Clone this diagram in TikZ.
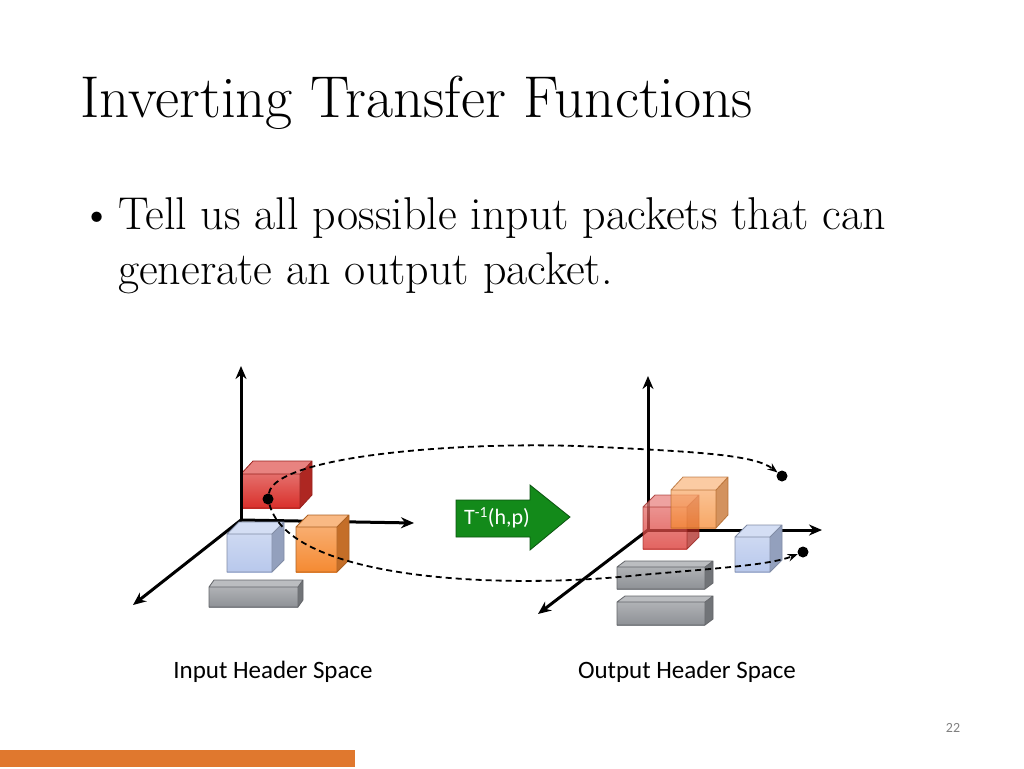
\documentclass[tikz,border=0pt]{standalone}
\usepackage{fontspec}
\newfontfamily\calibri{Carlito}
\usetikzlibrary{arrows.meta, positioning}
\definecolor{BoxRed}{HTML}{D9302B}
\definecolor{BoxOrange}{HTML}{F58A32}
\definecolor{BoxBlue}{HTML}{B8C8EC}
\definecolor{BoxGray}{HTML}{8E9196}
\definecolor{ArrowGreen}{HTML}{138A1A}
\definecolor{BarOrange}{HTML}{E0782E}
\tikzset{
  axis/.style={-{Stealth[length=13pt, width=11pt]}, line width=3pt, color=black},
  guide/.style={dash pattern=on 6pt off 4pt, line width=1.8pt, -{Stealth[length=10pt]}},
  dot/.style={circle, fill=black, inner sep=0pt, minimum size=11pt},
  caption/.style={font=\calibri\fontsize{25}{28}\selectfont},
}
% front corner, width, height, depth offset, colour, opacity
\newcommand{\pktbox}[8]{%
  \fill[#7!80!black, opacity=#8] (#1+#3,#2) -- ++(#5,-#6) -- ++(0,-#4) -- ++(-#5,#6) -- cycle;
  \fill[#7!60!white, opacity=#8] (#1,#2-#4) -- ++(#5,-#6) -- ++(#3,0) -- ++(-#5,#6) -- cycle;
  \shade[top color=#7!70!white, bottom color=#7, opacity=#8] (#1,#2) rectangle ++(#3,-#4);
  \draw[#7!70!black, opacity=#8, line width=0.8pt] (#1,#2) rectangle ++(#3,-#4)
    (#1,#2-#4) -- ++(#5,-#6) -- ++(#3,0) -- ++(0,#4) -- ++(-#5,#6)
    (#1+#3,#2-#4) -- ++(#5,-#6);
}
\begin{document}
\begin{tikzpicture}[x=1pt, y=-1pt]
  \useasboundingbox (0,0) rectangle (1024,768);

  % Title and bullet
  \node[anchor=base west, inner sep=0pt, font=\fontsize{59}{66}\selectfont] (title) at (80,117) {Inverting Transfer Functions};
  \node[anchor=base west, inner sep=0pt, font=\fontsize{46}{50}\selectfont] (bullet) at (80,229) {\textbullet};
  \node[anchor=base west, inner sep=0pt, font=\fontsize{46}{50}\selectfont] (line1) at (118,229) {Tell us all possible input packets that can};
  \node[anchor=base west, inner sep=0pt, font=\fontsize{46}{50}\selectfont] (line2) at (118,284) {generate an output packet.};

  % Input header space
  \coordinate (o1) at (241,520);
  \coordinate (up1) at (241,366);
  \coordinate (rt1) at (414,523);
  \coordinate (dg1) at (133,605);
  \pktbox{241}{508}{59}{34}{12}{13}{BoxRed}{1}
  \draw[axis] (o1) -- (up1);
  \draw[axis] (o1) -- (rt1);
  \draw[axis] (o1) -- (dg1);
  \pktbox{227}{572}{45}{38}{12}{12}{BoxBlue}{1}
  \pktbox{296}{572}{41}{45}{12}{12}{BoxOrange}{1}
  \pktbox{209}{607}{89}{20}{5}{7}{BoxGray}{1}
  \node[dot] (src) at (268,499) {};

  % Output header space
  \coordinate (o2) at (648,530);
  \coordinate (up2) at (648,376);
  \coordinate (rt2) at (822,530);
  \coordinate (dg2) at (538,614);
  \draw[axis] (o2) -- (up2);
  \draw[axis] (o2) -- (rt2);
  \draw[axis] (o2) -- (dg2);
  \pktbox{643}{549}{44}{42}{12}{12}{BoxRed}{0.75}
  \pktbox{671}{528}{45}{38}{12}{13}{BoxOrange}{0.75}
  \pktbox{735}{572}{35}{35}{12}{12}{BoxBlue}{1}
  \pktbox{617}{589}{88}{22}{8}{6}{BoxGray}{1}
  \pktbox{617}{625}{88}{23}{8}{6}{BoxGray}{1}
  \node[dot] (dstA) at (782,476) {};
  \node[dot] (dstB) at (803,552) {};

  % Mapping paths
  \draw[guide] (src) .. controls (275,455) and (470,440) .. (600,447)
    .. controls (700,452) and (755,455) .. (dstA);
  \draw[guide] (src) .. controls (290,580) and (500,590) .. (640,575)
    .. controls (720,568) and (770,565) .. (dstB);

  % Transfer arrow
  \filldraw[fill=ArrowGreen, draw=ArrowGreen!60!black, line width=0.8pt]
    (456,500) -- (530,500) -- (530,485) -- (570,517) -- (530,550) -- (530,537) -- (456,537) -- cycle;
  \node[text=white, font=\calibri\fontsize{22}{24}\selectfont] (tinv) at (497,518) {T\textsuperscript{-1}(h,p)};

  % Captions
  \node[caption] (inlbl) at (273,672) {Input Header Space};
  \node[caption] (outlbl) at (687,672) {Output Header Space};

  % Footer
  \node[font=\calibri\fontsize{14}{16}\selectfont, text=gray] (page) at (953,728) {22};
  \fill[BarOrange] (0,750) rectangle (355,767);
\end{tikzpicture}
\end{document}
